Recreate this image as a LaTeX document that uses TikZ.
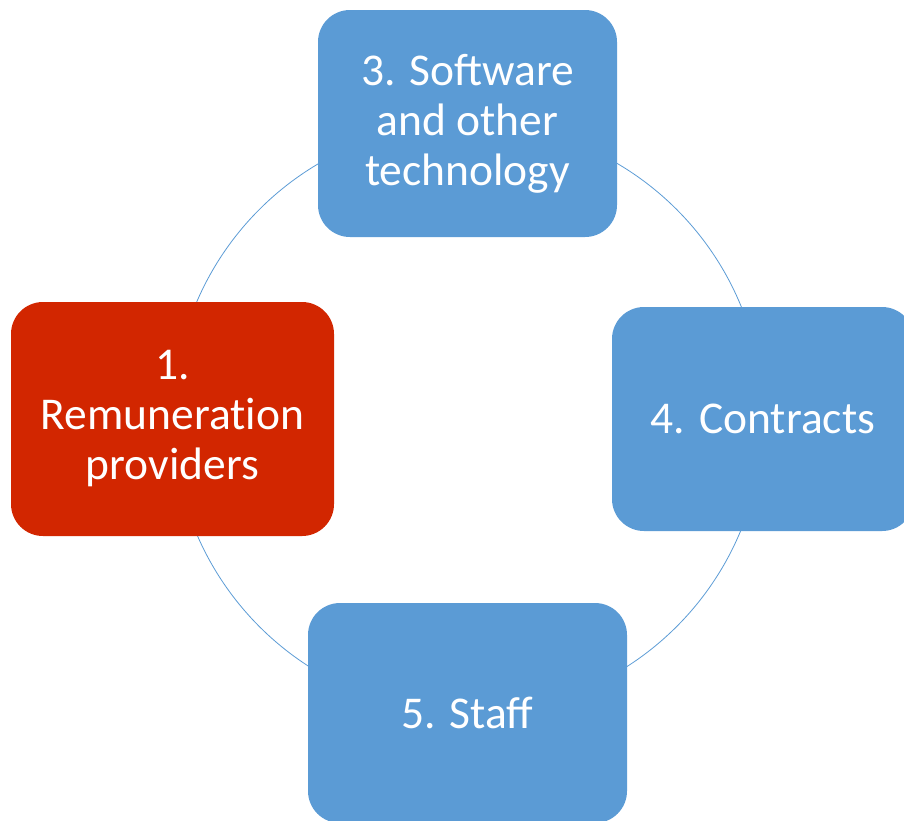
\documentclass[tikz,border=0pt]{standalone}
\usepackage{fontspec}
\setmainfont{Carlito}
\definecolor{rcBlue}{HTML}{5B9BD5}
\definecolor{rcRed}{HTML}{D22600}
\usetikzlibrary{positioning}

\begin{document}
\begin{tikzpicture}[x=1pt, y=-1pt,
  card/.style={rounded corners=32pt, fill=rcBlue, text=white, inner sep=0pt,
    align=center, font=\fontsize{45.5}{50}\selectfont},
  ring/.style={draw=rcBlue, line width=0.8pt}
]
  \useasboundingbox (0,0) rectangle (904,820);

  % Cycle ring behind the cards
  \coordinate (hub) at (468,418);
  \draw[ring] (hub) circle (295pt);

  \node[card, fill=rcRed, minimum width=323pt, minimum height=234pt] (remun) at (172.5,419) {1.\\{\addfontfeatures{Ligatures=NoCommon}Remuneration}\\providers};
  \node[card, minimum width=299pt, minimum height=227pt] (software) at (467.5,123.5) {3. Software\\and other\\technology};
  \node[card, minimum width=302pt, minimum height=224pt] (contracts) at (763,419) {4. Contracts};
  \node[card, minimum width=319pt, minimum height=220pt] (staff) at (467.5,713) {5. Staff};
\end{tikzpicture}
\end{document}
